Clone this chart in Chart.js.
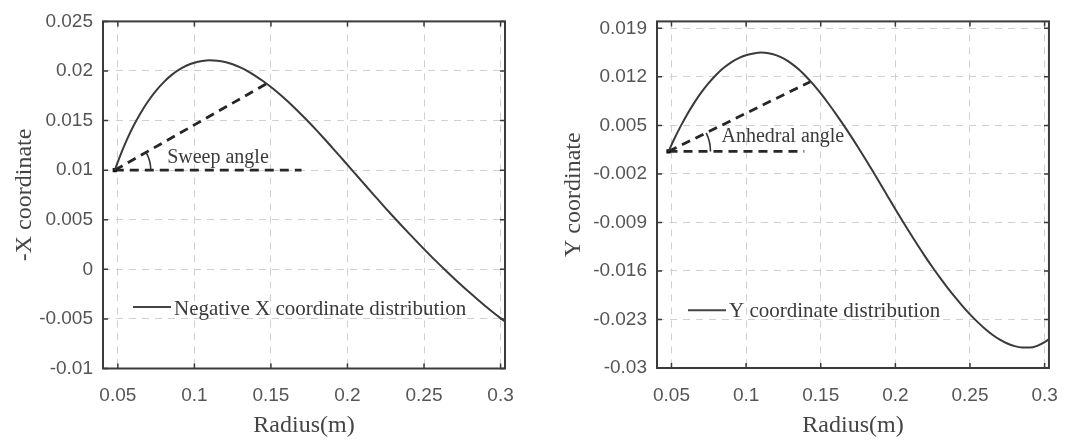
<!DOCTYPE html>
<html><head><meta charset="utf-8">
<script src="https://cdn.jsdelivr.net/npm/chart.js@4.4.1/dist/chart.umd.min.js"></script>
<style>
html,body{margin:0;padding:0;background:#fff;}
#wrap{position:relative;width:1074px;height:441px;overflow:hidden;background:#fff;}
.c{position:absolute;top:0;height:441px;}
</style></head><body>
<div id="wrap">
<div class="c" style="left:0;width:540px"><canvas id="c1"></canvas></div>
<div class="c" style="left:540px;width:534px"><canvas id="c2"></canvas></div>
</div>
<script>
// ---- data ----
const radius = [0.048,0.052,0.056,0.060,0.065,0.070,0.075,0.080,0.085,0.090,0.095,0.100,0.105,0.110,0.115,0.120,0.125,0.130,0.135,0.140,0.145,0.150,0.155,0.160,0.165,0.170,0.175,0.180,0.185,0.190,0.195,0.200,0.205,0.210,0.215,0.220,0.225,0.230,0.235,0.240,0.245,0.250,0.255,0.260,0.265,0.270,0.275,0.280,0.285,0.290,0.295,0.300,0.303];
const negXCoord = [0.01000,0.01165,0.01310,0.01440,0.01580,0.01700,0.01802,0.01888,0.01958,0.02013,0.02055,0.02083,0.02100,0.02107,0.02104,0.02091,0.02068,0.02036,0.01996,0.01949,0.01896,0.01838,0.01775,0.01707,0.01635,0.01559,0.01480,0.01398,0.01314,0.01228,0.01141,0.01053,0.00965,0.00877,0.00789,0.00702,0.00615,0.00530,0.00447,0.00365,0.00284,0.00204,0.00126,0.00050,-0.00024,-0.00097,-0.00168,-0.00237,-0.00304,-0.00369,-0.00432,-0.00492,-0.00527];
const yCoord = [0.00125,0.00310,0.00482,0.00640,0.00818,0.00975,0.01112,0.01230,0.01330,0.01410,0.01470,0.01512,0.01538,0.01550,0.01542,0.01514,0.01466,0.01398,0.01312,0.01209,0.01091,0.00960,0.00819,0.00670,0.00514,0.00352,0.00184,0.00011,-0.00166,-0.00346,-0.00528,-0.00709,-0.00887,-0.01061,-0.01230,-0.01393,-0.01550,-0.01700,-0.01843,-0.01979,-0.02107,-0.02226,-0.02335,-0.02434,-0.02520,-0.02591,-0.02646,-0.02684,-0.02704,-0.02706,-0.02680,-0.02626,-0.02583];

const xTicks = [0.05,0.1,0.15,0.2,0.25,0.3];
const xTickLabels = ['0.05','0.1','0.15','0.2','0.25','0.3'];
const leftYTicks = [-0.01,-0.005,0,0.005,0.01,0.015,0.02,0.025];
const leftYTickLabels = ['-0.01','-0.005','0','0.005','0.01','0.015','0.02','0.025'];
const rightYTicks = [-0.03,-0.023,-0.016,-0.009,-0.002,0.005,0.012,0.019];
const rightYTickLabels = ['-0.03','-0.023','-0.016','-0.009','-0.002','0.005','0.012','0.019'];

// reference (dashed) lines for the angle sketches
const sweepRefX = [0.048, 0.170];
const sweepRefY = [0.0100, 0.0100];
const sweepLineX = [0.048, 0.147];
const sweepLineY = [0.0100, 0.0187];
const anhedralRefX = [0.048, 0.139];
const anhedralRefY = [0.00125, 0.00125];
const anhedralLineX = [0.048, 0.143];
const anhedralLineY = [0.00125, 0.0113];

// ---- helpers ----
const pts = (xs, ys) => xs.map((x, i) => ({x: x, y: ys[i]}));
const TICK_FONT = {family: "'Liberation Sans', Arial, sans-serif", size: 19};
const SERIF = "'Liberation Serif', 'Times New Roman', serif";

function framePlugin(opt) {
  return {
    id: 'frame',
    afterDraw(chart) {
      const ctx = chart.ctx, ca = chart.chartArea;
      const xs = chart.scales.x, ys = chart.scales.y;
      ctx.save();
      // inward tick marks
      ctx.strokeStyle = '#3a3a3a';
      ctx.lineWidth = 1.5;
      ctx.beginPath();
      opt.xTicks.forEach(v => {
        const px = xs.getPixelForValue(v);
        ctx.moveTo(px, ca.bottom); ctx.lineTo(px, ca.bottom - 5);
        ctx.moveTo(px, ca.top); ctx.lineTo(px, ca.top + 5);
      });
      opt.yTicks.forEach(v => {
        const py = ys.getPixelForValue(v);
        ctx.moveTo(ca.left, py); ctx.lineTo(ca.left + 5, py);
        ctx.moveTo(ca.right, py); ctx.lineTo(ca.right - 5, py);
      });
      ctx.stroke();
      // box
      ctx.lineWidth = 2;
      ctx.strokeRect(ca.left, ca.top, ca.right - ca.left, ca.bottom - ca.top);
      // angle arc
      const cx = xs.getPixelForValue(opt.lineX[0]), cy = ys.getPixelForValue(opt.lineY[0]);
      const ex = xs.getPixelForValue(opt.lineX[1]), ey = ys.getPixelForValue(opt.lineY[1]);
      const ang = Math.atan2(ey - cy, ex - cx);
      ctx.strokeStyle = '#333';
      ctx.lineWidth = 1.6;
      ctx.beginPath();
      ctx.arc(cx, cy, opt.arcR, ang, 0);
      ctx.stroke();
      // annotation text
      ctx.fillStyle = '#3a3a3a';
      ctx.font = '20px ' + SERIF;
      ctx.textBaseline = 'alphabetic';
      ctx.textAlign = 'left';
      ctx.fillText(opt.annText, xs.getPixelForValue(opt.annX), ys.getPixelForValue(opt.annY));
      // legend (inside the plot)
      const lx = ca.left + opt.legDx, ly = ca.top + opt.legLineDy;
      ctx.strokeStyle = '#444';
      ctx.lineWidth = 2;
      ctx.beginPath();
      ctx.moveTo(lx, ly); ctx.lineTo(lx + 38, ly);
      ctx.stroke();
      ctx.font = '21px ' + SERIF;
      ctx.fillText(opt.legendLabel, lx + 41, ca.top + opt.legTextDy);
      ctx.restore();
    }
  };
}

function makeChart(id, o) {
  const ctx = document.getElementById(id);
  return new Chart(ctx, {
    type: 'scatter',
    data: {
      datasets: [
        {
          label: o.legendLabel,
          data: pts(radius, o.values),
          showLine: true,
          borderColor: '#3a3a3a',
          borderWidth: 2,
          pointRadius: 0,
          cubicInterpolationMode: 'monotone'
        },
        {
          label: 'ref',
          data: pts(o.refX, o.refY),
          showLine: true,
          borderColor: '#262626',
          backgroundColor: '#111',
          borderWidth: 2.8,
          borderDash: [9, 6],
          pointRadius: [3, 0],
          pointStyle: 'rect',
          pointBorderWidth: 0
        },
        {
          label: 'line',
          data: pts(o.lineX, o.lineY),
          showLine: true,
          borderColor: '#262626',
          borderWidth: 2.8,
          borderDash: [9, 6],
          pointRadius: 0
        }
      ]
    },
    options: {
      responsive: true,
      maintainAspectRatio: false,
      animation: false,
      events: [],
      layout: {padding: {top: 14.5, right: o.padRight, left: 0, bottom: 0}},
      plugins: {legend: {display: false}, tooltip: {enabled: false}},
      scales: {
        x: {
          type: 'linear',
          min: 0.0403,
          max: 0.3029,
          afterBuildTicks(s) { s.ticks = xTicks.map(v => ({value: v})); },
          afterFit(s) { s.height = o.xAxisH; },
          ticks: {
            font: TICK_FONT, color: '#555', padding: 16, maxRotation: 0, autoSkip: false,
            callback: (v) => { const i = xTicks.findIndex(t => Math.abs(t - v) < 1e-9); return i >= 0 ? xTickLabels[i] : ''; }
          },
          grid: {color: '#d0d0d0', lineWidth: 1, drawTicks: false},
          border: {display: false, dash: [7, 6]},
          title: {display: true, text: 'Radius(m)', color: '#444', font: {family: SERIF, size: 24}, padding: {top: 0, bottom: 1}}
        },
        y: {
          type: 'linear',
          min: o.yMin,
          max: o.yMax,
          afterBuildTicks(s) { s.ticks = o.yTicks.map(v => ({value: v})); },
          afterFit(s) { s.width = o.yAxisW; },
          ticks: {
            font: TICK_FONT, color: '#555', padding: 10, autoSkip: false,
            callback: (v) => { const i = o.yTicks.findIndex(t => Math.abs(t - v) < 1e-9); return i >= 0 ? o.yLabels[i] : ''; }
          },
          grid: {color: '#d0d0d0', lineWidth: 1, drawTicks: false},
          border: {display: false, dash: [7, 6]},
          title: {display: true, text: o.yTitle, color: '#444', font: {family: SERIF, size: 24}, padding: {top: o.yTitlePad, bottom: 0}}
        }
      }
    },
    plugins: [framePlugin({
      xTicks: xTicks, yTicks: o.yTicks, lineX: o.lineX, lineY: o.lineY, arcR: o.arcR,
      annText: o.annText, annX: o.annX, annY: o.annY, legendLabel: o.legendLabel,
      legDx: o.legDx, legLineDy: o.legLineDy, legTextDy: o.legTextDy
    })]
  });
}

makeChart('c1', {
  values: negXCoord, yMin: -0.01, yMax: 0.025, yTicks: leftYTicks, yLabels: leftYTickLabels,
  yTitle: '-X coordinate', yTitlePad: 10.6, yAxisW: 103, padRight: 35, xAxisH: 72.5,
  legendLabel: 'Negative X coordinate distribution',
  refX: sweepRefX, refY: sweepRefY, lineX: sweepLineX, lineY: sweepLineY, arcR: 36,
  annText: 'Sweep angle', annX: 0.0822, annY: 0.01073,
  legDx: 30, legLineDy: 285.5, legTextDy: 293.5
});
makeChart('c2', {
  values: yCoord, yMin: -0.03, yMax: 0.02, yTicks: rightYTicks, yLabels: rightYTickLabels,
  yTitle: 'Y coordinate', yTitlePad: 19, yAxisW: 117, padRight: 16, xAxisH: 73,
  legendLabel: 'Y coordinate distribution',
  refX: anhedralRefX, refY: anhedralRefY, lineX: anhedralLineX, lineY: anhedralLineY, arcR: 42,
  annText: 'Anhedral angle', annX: 0.0835, annY: 0.00257,
  legDx: 31, legLineDy: 288.8, legTextDy: 295.5
});
</script>
</body></html>
